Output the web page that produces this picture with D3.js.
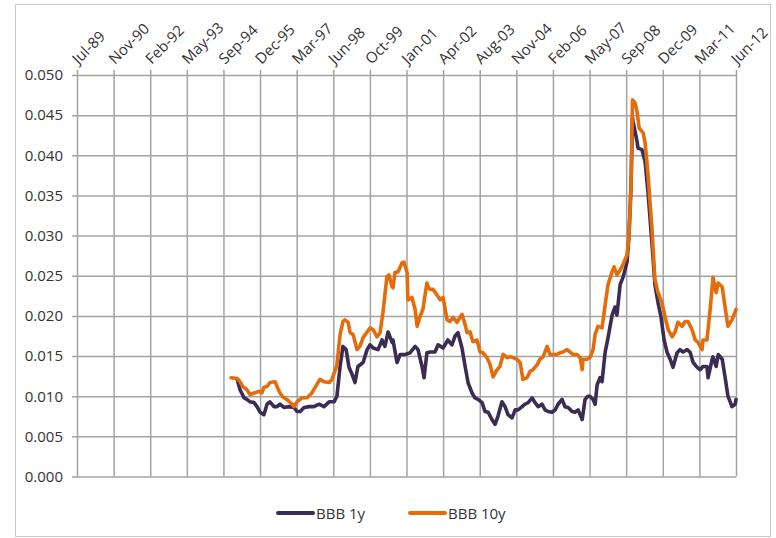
<!DOCTYPE html>
<html><head><meta charset="utf-8">
<script src="https://cdn.jsdelivr.net/npm/d3@7"></script>
<style>body{margin:0;background:#fff}svg{display:block}</style>
</head><body><svg id="c" width="776" height="538"></svg>
<script>
const tickLabels = ["Jul-89","Nov-90","Feb-92","May-93","Sep-94","Dec-95","Mar-97","Jun-98","Oct-99","Jan-01","Apr-02","Aug-03","Nov-04","Feb-06","May-07","Sep-08","Dec-09","Mar-11","Jun-12"];
const yTicks = [0,0.005,0.010,0.015,0.020,0.025,0.030,0.035,0.040,0.045,0.050];
const seriesNames = ["BBB 1y","BBB 10y"];
const seriesColors = ["#3a2c52","#e46c0a"];

const years1y = [1995.07,1995.17,1995.31,1995.41,1995.52,1995.66,1995.76,1995.87,1996.00,1996.11,
1996.21,1996.35,1996.46,1996.56,1996.70,1996.87,1997.05,1997.15,1997.26,1997.40,
1997.57,1997.74,1997.92,1998.09,1998.27,1998.44,1998.54,1998.65,1998.75,1998.86,
1998.96,1999.07,1999.17,1999.27,1999.45,1999.59,1999.69,1999.80,1999.97,2000.11,
2000.21,2000.32,2000.46,2000.49,2000.63,2000.74,2000.91,2001.08,2001.26,2001.36,
2001.50,2001.57,2001.67,2001.78,2001.95,2002.06,2002.23,2002.40,2002.54,2002.65,
2002.75,2002.89,2003.00,2003.10,2003.24,2003.34,2003.45,2003.59,2003.69,2003.80,
2003.93,2004.04,2004.14,2004.28,2004.39,2004.49,2004.63,2004.74,2004.84,2004.98,
2005.08,2005.19,2005.33,2005.43,2005.54,2005.67,2005.78,2005.88,2006.02,2006.13,
2006.23,2006.37,2006.47,2006.58,2006.72,2006.82,2006.93,2007.07,2007.17,2007.27,
2007.34,2007.45,2007.52,2007.59,2007.69,2007.76,2007.87,2007.97,2008.11,2008.21,
2008.28,2008.39,2008.49,2008.63,2008.70,2008.77,2008.82,2008.84,2008.98,2009.01,
2009.15,2009.26,2009.36,2009.50,2009.60,2009.71,2009.81,2009.92,2010.02,2010.13,
2010.23,2010.37,2010.47,2010.58,2010.72,2010.82,2010.93,2011.07,2011.17,2011.27,
2011.41,2011.45,2011.59,2011.62,2011.73,2011.80,2011.94,2012.04,2012.14,2012.28,
2012.39,2012.42];
const bbb1y = [0.0121,0.0108,0.0098,0.0096,0.0093,0.0092,0.0087,0.0080,0.0077,0.0090,
0.0093,0.0087,0.0087,0.0090,0.0086,0.0087,0.0086,0.0081,0.0081,0.0086,
0.0087,0.0087,0.0090,0.0087,0.0093,0.0093,0.0100,0.0137,0.0162,0.0158,
0.0136,0.0127,0.0117,0.0137,0.0142,0.0158,0.0164,0.0160,0.0158,0.0170,
0.0162,0.0180,0.0167,0.0170,0.0142,0.0152,0.0152,0.0154,0.0162,0.0158,
0.0137,0.0123,0.0154,0.0155,0.0155,0.0164,0.0160,0.0170,0.0164,0.0175,
0.0179,0.0160,0.0137,0.0117,0.0104,0.0098,0.0096,0.0092,0.0081,0.0080,
0.0071,0.0065,0.0075,0.0093,0.0087,0.0077,0.0073,0.0083,0.0083,0.0087,
0.0090,0.0092,0.0098,0.0092,0.0087,0.0090,0.0083,0.0081,0.0080,0.0083,
0.0090,0.0096,0.0087,0.0086,0.0081,0.0080,0.0083,0.0071,0.0096,0.0100,
0.0100,0.0096,0.0090,0.0114,0.0123,0.0118,0.0155,0.0173,0.0201,0.0211,
0.0201,0.0239,0.0248,0.0267,0.0301,0.0363,0.0447,0.0442,0.0417,0.0409,
0.0407,0.0392,0.0354,0.0289,0.0239,0.0216,0.0199,0.0170,0.0155,0.0146,
0.0136,0.0154,0.0158,0.0155,0.0158,0.0155,0.0142,0.0136,0.0133,0.0137,
0.0137,0.0123,0.0146,0.0149,0.0137,0.0152,0.0146,0.0124,0.0100,0.0087,
0.0090,0.0096];

const years10y = [1994.86,1995.07,1995.17,1995.27,1995.41,1995.52,1995.66,1995.83,1995.93,1996.00,
1996.11,1996.21,1996.39,1996.53,1996.63,1996.80,1996.98,1997.05,1997.15,1997.33,
1997.50,1997.67,1997.78,1997.95,1998.09,1998.27,1998.37,1998.54,1998.65,1998.75,
1998.82,1998.93,1999.00,1999.10,1999.24,1999.34,1999.45,1999.59,1999.69,1999.80,
1999.93,2000.04,2000.14,2000.28,2000.35,2000.46,2000.49,2000.56,2000.67,2000.80,
2000.87,2000.98,2001.01,2001.15,2001.26,2001.33,2001.43,2001.53,2001.67,2001.71,
2001.78,2001.88,2002.02,2002.13,2002.23,2002.37,2002.47,2002.58,2002.72,2002.89,
2003.00,2003.07,2003.17,2003.27,2003.41,2003.52,2003.62,2003.76,2003.87,2003.97,
2004.11,2004.21,2004.32,2004.46,2004.56,2004.67,2004.80,2004.91,2005.01,2005.15,
2005.26,2005.36,2005.50,2005.60,2005.71,2005.85,2005.95,2006.06,2006.20,2006.30,
2006.40,2006.54,2006.65,2006.75,2006.89,2007.00,2007.07,2007.10,2007.24,2007.34,
2007.45,2007.52,2007.62,2007.76,2007.87,2007.97,2008.11,2008.18,2008.28,2008.39,
2008.49,2008.63,2008.70,2008.77,2008.82,2008.91,2008.98,2009.05,2009.19,2009.26,
2009.36,2009.50,2009.60,2009.71,2009.85,2009.95,2010.06,2010.20,2010.30,2010.40,
2010.54,2010.65,2010.75,2010.89,2011.00,2011.10,2011.24,2011.27,2011.41,2011.52,
2011.62,2011.73,2011.80,2011.94,2012.04,2012.14,2012.28,2012.42];
const bbb10y = [0.0123,0.0122,0.0118,0.0112,0.0108,0.0102,0.0104,0.0106,0.0104,0.0111,
0.0112,0.0117,0.0118,0.0106,0.0100,0.0096,0.0090,0.0087,0.0093,0.0098,
0.0098,0.0104,0.0111,0.0121,0.0118,0.0117,0.0121,0.0139,0.0177,0.0193,
0.0195,0.0192,0.0179,0.0177,0.0158,0.0162,0.0173,0.0180,0.0185,0.0183,
0.0174,0.0179,0.0204,0.0249,0.0251,0.0236,0.0235,0.0254,0.0255,0.0266,
0.0267,0.0254,0.0220,0.0223,0.0208,0.0187,0.0199,0.0208,0.0241,0.0236,
0.0233,0.0233,0.0226,0.0220,0.0223,0.0195,0.0193,0.0198,0.0192,0.0202,
0.0189,0.0179,0.0180,0.0168,0.0170,0.0155,0.0154,0.0148,0.0139,0.0124,
0.0133,0.0137,0.0152,0.0148,0.0149,0.0148,0.0146,0.0142,0.0121,0.0123,
0.0131,0.0133,0.0139,0.0146,0.0149,0.0162,0.0152,0.0152,0.0152,0.0154,
0.0155,0.0158,0.0155,0.0152,0.0152,0.0148,0.0133,0.0146,0.0146,0.0148,
0.0158,0.0177,0.0187,0.0185,0.0214,0.0239,0.0255,0.0261,0.0251,0.0257,
0.0264,0.0276,0.0301,0.0363,0.0469,0.0465,0.0454,0.0434,0.0428,0.0415,
0.0376,0.0307,0.0245,0.0229,0.0216,0.0199,0.0183,0.0174,0.0180,0.0192,
0.0187,0.0193,0.0193,0.0183,0.0170,0.0167,0.0158,0.0170,0.0170,0.0208,
0.0248,0.0229,0.0241,0.0236,0.0211,0.0187,0.0195,0.0208];

const svg = d3.select("#c");
const FONT = "'Open Sans', sans-serif";
const TXT = "#333333";
const GRID = "#a3a3a3";
const L = 77, R = 736, T = 75, B = 476.5;
const tStart = 1989.5, tEnd = 2012.42;
const x = d3.scaleLinear().domain([tStart, tEnd]).range([L, R]);
const y = d3.scaleLinear().domain([0, 0.05]).range([B, T]);
const tickPos = tickLabels.map((d, i) => tStart + i * (tEnd - tStart) / (tickLabels.length - 1));

// outer border
svg.append("rect").attr("x", 15.5).attr("y", 4.5).attr("width", 755).attr("height", 532)
  .attr("fill", "#fff").attr("stroke", "#c8c8c8").attr("stroke-width", 1);

// Y axis + horizontal grid
const yg = svg.append("g").attr("transform", `translate(${L},0)`)
  .call(d3.axisLeft(y).tickValues(yTicks).tickFormat(d3.format(".3f")).tickSize(-(R - L)).tickPadding(14));
yg.select(".domain").remove();
yg.selectAll("line").attr("x1", -5).attr("stroke", GRID).attr("stroke-width", 1.5);
yg.selectAll("text").attr("font-family", FONT).attr("font-size", 15).attr("fill", TXT);

// top axis + vertical grid
const xg = svg.append("g").attr("transform", `translate(0,${T})`)
  .call(d3.axisTop(x).tickValues(tickPos).tickFormat((d, i) => tickLabels[i]).tickSize(-(B - T)));
xg.select(".domain").remove();
xg.selectAll("line").attr("y1", -5).attr("stroke", GRID).attr("stroke-width", 1.5);
xg.selectAll("text").attr("font-family", FONT).attr("font-size", 15).attr("fill", TXT)
  .attr("x", 0).attr("y", 0).attr("dy", 0).attr("text-anchor", "start")
  .attr("transform", "translate(1,-10) rotate(-45)");

// series
const series = [
  {name: seriesNames[0], t: years1y, v: bbb1y, color: seriesColors[0]},
  {name: seriesNames[1], t: years10y, v: bbb10y, color: seriesColors[1]}
];
const line = d3.line().x(d => x(d[0])).y(d => y(d[1]));
series.forEach(s => {
  svg.append("path").datum(s.t.map((t, i) => [t, s.v[i]]))
    .attr("d", line).attr("fill", "none").attr("stroke", s.color)
    .attr("stroke-width", 3.6).attr("stroke-linejoin", "round").attr("stroke-linecap", "round");
});

// legend
const legX = [278, 410];
const lg = svg.append("g");
series.forEach((s, i) => {
  lg.append("line").attr("x1", legX[i]).attr("x2", legX[i] + 35).attr("y1", 513).attr("y2", 513)
    .attr("stroke", s.color).attr("stroke-width", 4).attr("stroke-linecap", "round");
  lg.append("text").attr("x", legX[i] + 38).attr("y", 518.5).text(s.name)
    .attr("font-family", FONT).attr("font-size", 15).attr("fill", TXT);
});
</script></body></html>
